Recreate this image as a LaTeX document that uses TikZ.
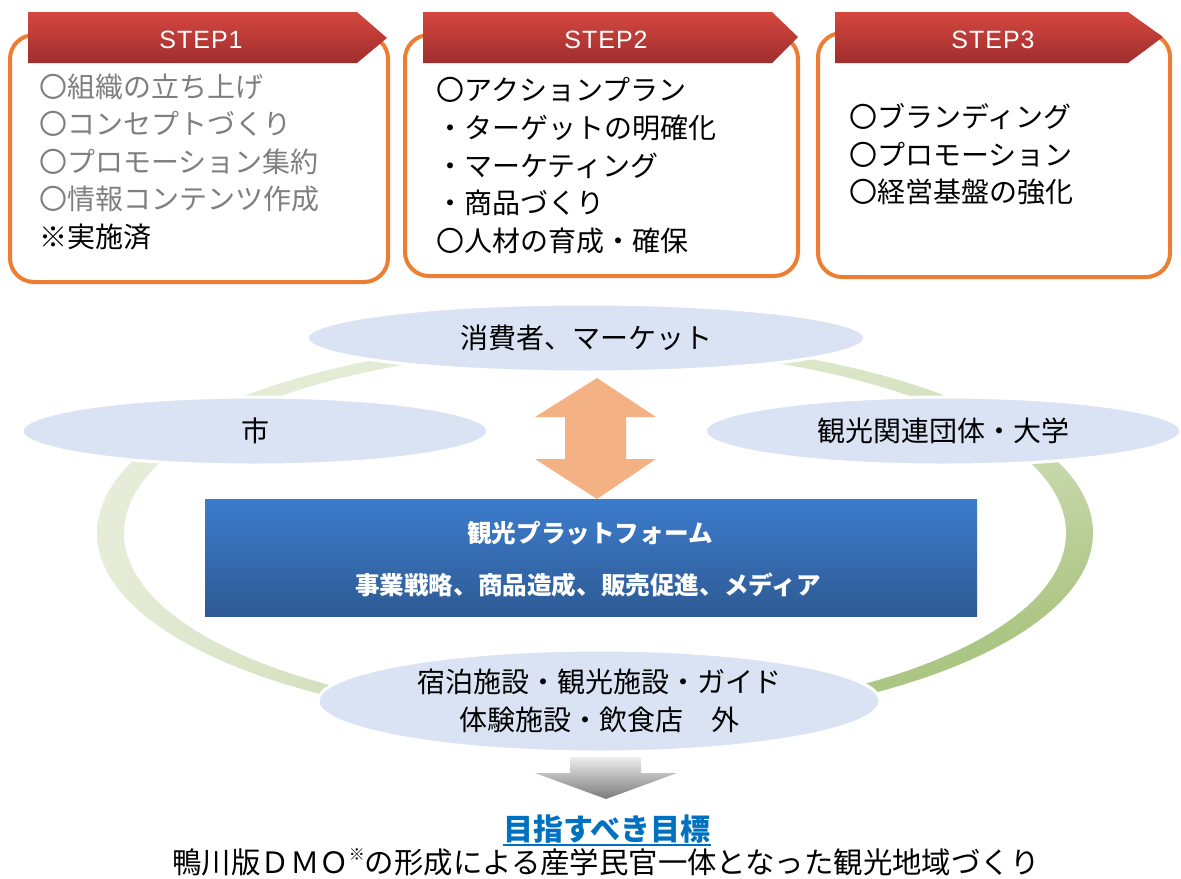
\documentclass[tikz,border=0pt]{standalone}
\usepackage{fontspec}
\setmainfont{Noto Sans CJK JP}
\newfontfamily\stepfont[LetterSpace=4]{Liberation Sans}
\usetikzlibrary{shapes.geometric,shadings}
\definecolor{orangeb}{HTML}{ED7D31}
\definecolor{redtop}{HTML}{D4473F}
\definecolor{redmid}{HTML}{C63B3B}
\definecolor{redbot}{HTML}{A02E2E}
\definecolor{ellc}{HTML}{DAE3F3}
\definecolor{arrc}{HTML}{F4B183}
\definecolor{bluetop}{HTML}{3C7CCC}
\definecolor{bluebot}{HTML}{2E5A94}
\definecolor{graytxt}{HTML}{7F7F7F}
\definecolor{goalblue}{HTML}{0070C0}
\definecolor{ringA}{HTML}{E8EFDC}
\definecolor{ringB}{HTML}{DCE6C9}
\definecolor{ringC}{HTML}{E3EBD5}
\definecolor{ringD}{HTML}{96B764}
\definecolor{grayA}{HTML}{EDEDED}
\definecolor{grayB}{HTML}{7A7A7A}
\begin{document}
\begin{tikzpicture}[x=0.5pt,y=-0.5pt,
  stepbox/.style={draw=orangeb, line width=2pt, rounded corners=12pt, fill=white},
  banner/.style={top color=redtop, middle color=redmid, bottom color=redbot},
  steplabel/.style={text=white, inner sep=0, font=\stepfont\fontsize{12.5}{15}\selectfont},
  itemline/.style={anchor=base west, inner sep=0, font=\fontsize{14}{17}\selectfont},
  oval/.style={ellipse, fill=ellc, draw=white, line width=1.5pt, inner sep=0, align=center,
    font=\fontsize{14}{19}\selectfont},
  platetext/.style={text=white, inner sep=0, font=\bfseries\fontsize{12.3}{15}\selectfont},
]
\useasboundingbox (0,0) rectangle (1181,878);

% ---------- STEP boxes ----------
\draw[stepbox] (10,35) rectangle (388,282);
\draw[stepbox] (405,35) rectangle (798,276);
\draw[stepbox] (818,33) rectangle (1170,277);

\shade[banner] (28,12) -- (357,12) -- (387,38) -- (357,63) -- (28,63) -- cycle;
\shade[banner] (423,12) -- (772,12) -- (798,37) -- (772,63) -- (423,63) -- cycle;
\shade[banner] (835,12) -- (1128,12) -- (1163,37) -- (1128,63) -- (835,63) -- cycle;

\node[steplabel] (st1) at (201,40) {STEP1};
\node[steplabel] (st2) at (606,40) {STEP2};
\node[steplabel] (st3) at (993,40) {STEP3};

\node[itemline, text=graytxt] (a1) at (39,97) {〇組織の立ち上げ};
\node[itemline, text=graytxt] (a2) at (39,134) {〇コンセプトづくり};
\node[itemline, text=graytxt] (a3) at (39,172) {〇プロモーション集約};
\node[itemline, text=graytxt] (a4) at (39,209) {〇情報コンテンツ作成};
\node[itemline] (a5) at (39,247) {※実施済};

\node[itemline] (b1) at (436,100) {〇アクションプラン};
\node[itemline] (b2) at (436,138) {・ターゲットの明確化};
\node[itemline] (b3) at (436,176) {・マーケティング};
\node[itemline] (b4) at (436,213) {・商品づくり};
\node[itemline] (b5) at (436,251) {〇人材の育成・確保};

\node[itemline] (c1) at (849,127) {〇ブランディング};
\node[itemline] (c2) at (849,165) {〇プロモーション};
\node[itemline] (c3) at (849,202) {〇経営基盤の強化};

% ---------- ring ----------
\shade[even odd rule, upper left=ringA, upper right=ringB, lower left=ringC, lower right=ringD]
  (595,533) ellipse [x radius=498, y radius=193]
  (595,533) ellipse [x radius=471, y radius=184];

% ---------- ellipses ----------
\node[oval, minimum width=279pt, minimum height=34pt] (market) at (586,338) {消費者、マーケット};
\node[oval, minimum width=233pt, minimum height=34pt] (city) at (255,431) {市};
\node[oval, minimum width=238pt, minimum height=34pt] (assoc) at (943,431) {観光関連団体・大学};
\node[oval, minimum width=281pt, minimum height=51pt] (fac) at (599,701)
  {宿泊施設・観光施設・ガイド\\体験施設・飲食店　外};

% ---------- platform ----------
\node[rectangle, top color=bluetop, bottom color=bluebot, minimum width=386pt,
  minimum height=58.5pt, inner sep=0] (plat) at (591,557.5) {};
\node[platetext] (p1) at (590,533.5) {観光プラットフォーム};
\node[platetext] (p2) at (588,585) {事業戦略、商品造成、販売促進、メディア};

% ---------- double arrow ----------
\fill[arrc] (597,378) -- (656,417) -- (626,417) -- (626,459) -- (656,459) -- (597,499)
  -- (535,459) -- (565,459) -- (565,417) -- (535,417) -- cycle;

% ---------- down arrow ----------
\shade[top color=grayA, bottom color=grayB]
  (570,757) -- (641,757) -- (641,773) -- (677,773) -- (606,799) -- (535,773) -- (570,773) -- cycle;

% ---------- goal ----------
\node[inner sep=0, text=goalblue, font=\bfseries\fontsize{15}{18}\selectfont]
  (goal) at (607,829) {目指すべき目標};
\draw[goalblue, line width=1pt] (goal.west |- 0,845) -- (goal.east |- 0,845);
\node[inner sep=0, font=\fontsize{14.7}{17}\selectfont] (vision) at (606,862)
  {鴨川版ＤＭＯ\raisebox{0.42em}{\fontsize{8}{8}\selectfont ※}の形成による産学民官一体となった観光地域づくり};
\end{tikzpicture}
\end{document}
